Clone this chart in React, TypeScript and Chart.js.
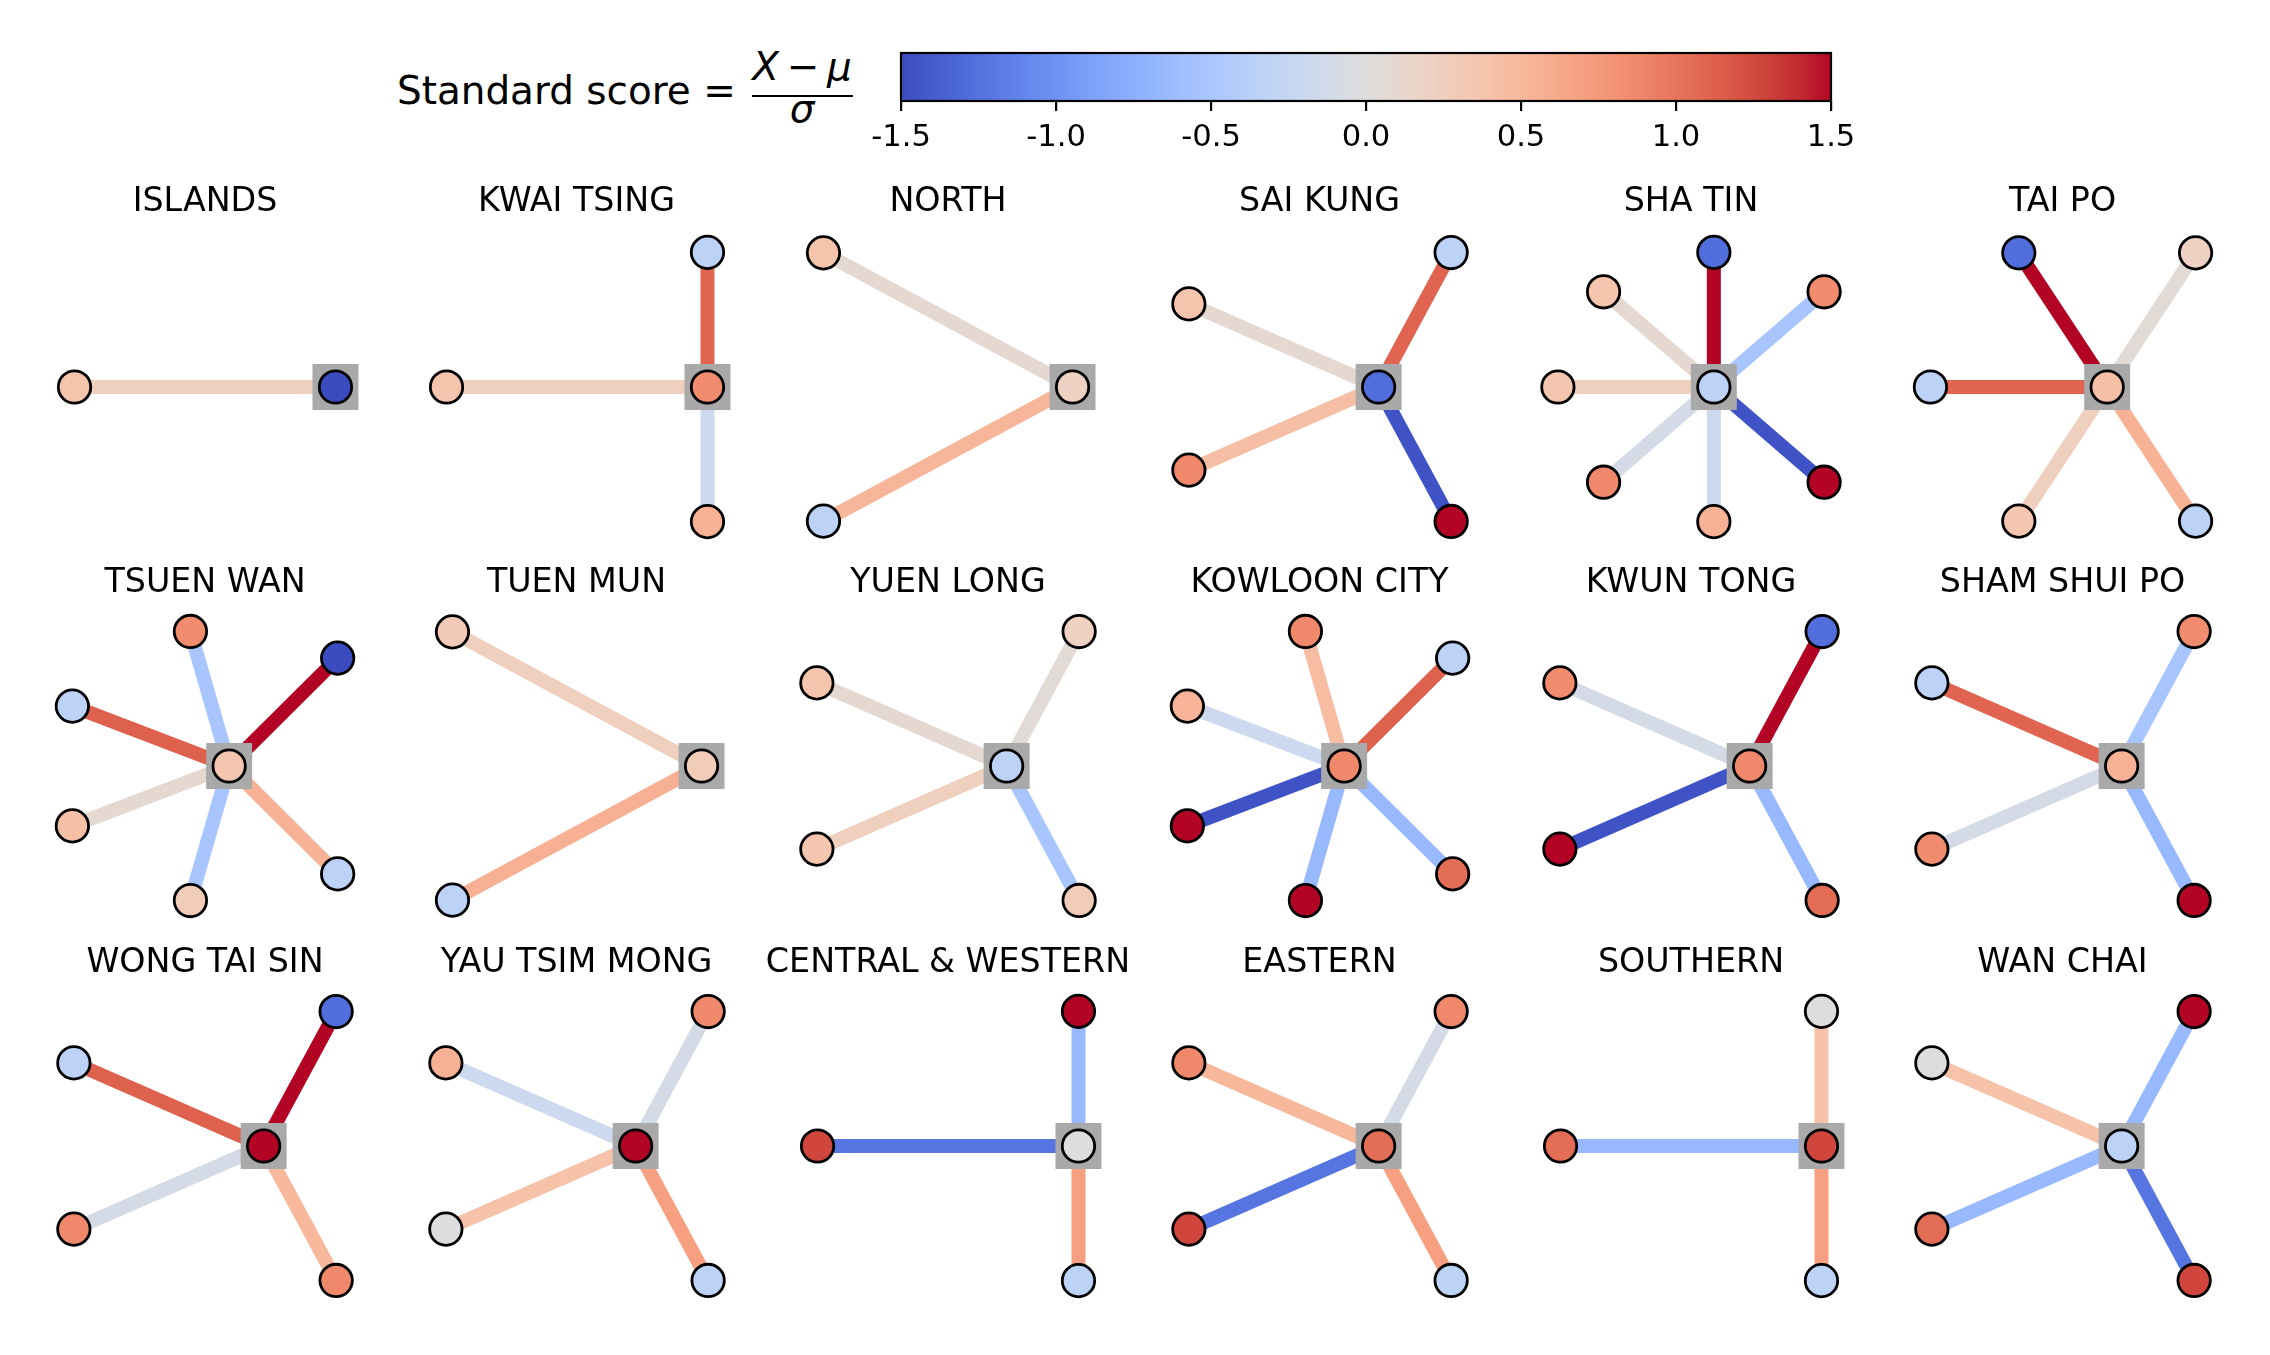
import React, { useEffect, useRef } from 'react';
import { Chart, registerables } from 'chart.js';

Chart.register(...registerables);

// ---------- data ----------
const districts = [
  'ISLANDS', 'KWAI TSING', 'NORTH', 'SAI KUNG', 'SHA TIN', 'TAI PO',
  'TSUEN WAN', 'TUEN MUN', 'YUEN LONG', 'KOWLOON CITY', 'KWUN TONG', 'SHAM SHUI PO',
  'WONG TAI SIN', 'YAU TSIM MONG', 'CENTRAL & WESTERN', 'EASTERN', 'SOUTHERN', 'WAN CHAI',
];

// standard score of the district itself (centre node)
const centerScores = [
  -1.6, 0.85, 0.2, -1.27, -0.33, 0.42,
  0.35, 0.28, -0.33, 0.87, 0.87, 0.55,
  1.6, 1.6, 0.0, 1.05, 1.27, -0.33,
];

// standard scores of neighbouring districts (outer nodes, counter-clockwise)
const neighbourScores = [
  [0.38],
  [-0.33, 0.38, 0.56],
  [0.38, -0.33],
  [-0.33, 0.38, 0.87, 1.6],
  [0.85, -1.27, 0.38, 0.35, 0.87, 0.55, 1.6],
  [0.2, -1.27, -0.33, 0.35, -0.33],
  [-1.6, 0.85, -0.33, 0.42, 0.28, -0.33],
  [0.3, -0.33],
  [0.22, 0.38, 0.35, 0.28],
  [-0.33, 0.87, 0.53, 1.6, 1.6, 1.05],
  [-1.27, 0.85, 1.6, 1.05],
  [0.85, -0.33, 0.85, 1.6],
  [-1.27, -0.33, 0.87, 0.87],
  [0.87, 0.55, 0.0, -0.33],
  [1.6, 1.27, -0.33],
  [0.87, 0.87, 1.27, -0.33],
  [0.0, 1.05, -0.33],
  [1.6, 0.0, 1.05, 1.27],
];

// standard scores of the links between the district and each neighbour
const linkScores = [
  [0.24],
  [1.1, 0.24, -0.19],
  [0.09, 0.52],
  [1.1, 0.09, 0.44, -1.45],
  [-0.52, 1.6, 0.09, 0.24, -0.1, -0.19, -1.45],
  [0.06, 1.6, 1.1, 0.24, 0.55],
  [1.6, -0.52, 1.12, 0.09, -0.52, 0.55],
  [0.24, 0.57],
  [0.06, 0.09, 0.24, -0.52],
  [1.12, 0.45, -0.19, -1.45, -0.66, -0.66],
  [1.6, -0.1, -1.45, -0.66],
  [-0.52, 1.1, -0.1, -0.66],
  [1.6, 1.12, -0.1, 0.5],
  [-0.1, -0.19, 0.4, 0.7],
  [-0.66, -1.22, 0.7],
  [-0.1, 0.5, -1.22, 0.7],
  [0.4, -0.66, 0.7],
  [-0.66, 0.4, -0.66, -1.22],
];

const colorbarTicks = [-1.5, -1.0, -0.5, 0.0, 0.5, 1.0, 1.5];
const colorbarTickLabels = ['-1.5', '-1.0', '-0.5', '0.0', '0.5', '1.0', '1.5'];
const scoreMin = -1.5;
const scoreMax = 1.5;

// ---------- coolwarm colormap ----------
const COOLWARM: number[][] = [
  [59, 76, 192], [68, 90, 204], [77, 104, 215], [87, 117, 225], [98, 130, 234],
  [108, 142, 241], [119, 154, 247], [130, 165, 251], [141, 176, 254], [152, 185, 255],
  [163, 194, 255], [174, 201, 253], [184, 208, 249], [194, 213, 244], [204, 217, 238],
  [213, 219, 230], [221, 221, 221], [229, 216, 209], [236, 211, 197], [241, 204, 185],
  [245, 196, 173], [247, 187, 160], [247, 177, 148], [247, 166, 135], [244, 154, 123],
  [241, 141, 111], [236, 127, 99], [229, 112, 88], [222, 96, 77], [213, 80, 66],
  [203, 62, 56], [192, 40, 47], [180, 4, 38],
];

function coolwarm(v: number): string {
  let t = (v - scoreMin) / (scoreMax - scoreMin);
  t = Math.max(0, Math.min(1, t));
  const f = t * (COOLWARM.length - 1);
  const i = Math.min(Math.floor(f), COOLWARM.length - 2);
  const r = f - i;
  const a = COOLWARM[i];
  const b = COOLWARM[i + 1];
  const c = [0, 1, 2].map((k) => Math.round(a[k] + (b[k] - a[k]) * r));
  return `rgb(${c[0]},${c[1]},${c[2]})`;
}

// ---------- layout ----------
const FONT = "'DejaVu Sans', 'Liberation Sans', sans-serif";
const PAD = 0.025;
const BOX_W = 274;
const BOX_H = 276;
const MARGIN = 40;
const COLS = 6;
const colCenter = (c: number) => 205 + 371.5 * c;
const rowCenter = (r: number) => 386.5 + 379.75 * r;
const titleCenter = (r: number) => 198.8 + 380.75 * r;

function Panel({ index }: { index: number }) {
  const ref = useRef<HTMLCanvasElement>(null);
  useEffect(() => {
    if (!ref.current) return;
    const scores = neighbourScores[index];
    const n = scores.length;
    const pts = scores.map((_, k) => {
      const a = (2 * Math.PI * (k + 1)) / (n + 1);
      return { x: Math.cos(a), y: Math.sin(a) };
    });
    const xs = [0, ...pts.map((p) => p.x)];
    const ys = [0, ...pts.map((p) => p.y)];
    const xmin = Math.min(...xs) - PAD;
    const xmax = Math.max(...xs) + PAD;
    let ymin = Math.min(...ys) - PAD;
    let ymax = Math.max(...ys) + PAD;
    if (Math.max(...ys) - Math.min(...ys) < 1e-6) {
      ymin = -1 - PAD;
      ymax = 1 + PAD;
    }
    const edgeSets = pts.map((p, k) => ({
      type: 'scatter' as const,
      data: [{ x: 0, y: 0 }, p],
      showLine: true,
      borderColor: coolwarm(linkScores[index][k]),
      borderWidth: 14,
      borderCapStyle: 'butt' as const,
      pointRadius: 0,
      clip: false as any,
      order: 3,
    }));
    const chart = new Chart(ref.current, {
      type: 'scatter',
      data: {
        datasets: [
          {
            data: [{ x: 0, y: 0 }, ...pts],
            pointRadius: 16.2,
            pointBackgroundColor: [coolwarm(centerScores[index]), ...scores.map(coolwarm)],
            pointBorderColor: '#000',
            pointBorderWidth: 2.8,
            clip: false as any,
            order: 1,
          },
          {
            data: [{ x: 0, y: 0 }],
            pointStyle: 'rect',
            pointRadius: 32.5,
            pointBackgroundColor: '#a9a9a9',
            pointBorderWidth: 0,
            clip: false as any,
            order: 2,
          },
          ...edgeSets,
        ] as any,
      },
      options: {
        responsive: false,
        animation: false,
        events: [],
        layout: { padding: MARGIN },
        plugins: { legend: { display: false }, tooltip: { enabled: false } },
        scales: {
          x: { type: 'linear', display: false, min: xmin, max: xmax },
          y: { type: 'linear', display: false, min: ymin, max: ymax },
        },
      },
    });
    return () => chart.destroy();
  }, [index]);

  const c = index % COLS;
  const r = Math.floor(index / COLS);
  const w = BOX_W + 2 * MARGIN;
  const h = BOX_H + 2 * MARGIN;
  return (
    <>
      <canvas
        ref={ref}
        width={w}
        height={h}
        style={{
          position: 'absolute',
          left: colCenter(c) - BOX_W / 2 - MARGIN,
          top: rowCenter(r) - BOX_H / 2 - MARGIN,
          width: w,
          height: h,
        }}
      />
      <div
        style={{
          position: 'absolute',
          left: colCenter(c) - 200,
          width: 400,
          top: titleCenter(r) - 16,
          height: 33,
          lineHeight: '33px',
          fontSize: 33.3,
          fontFamily: FONT,
          textAlign: 'center',
          color: '#000',
          whiteSpace: 'nowrap',
        }}
      >
        {districts[index]}
      </div>
    </>
  );
}

const CB_LEFT = 901;
const CB_RIGHT = 1831;
const CB_TOP = 53;
const CB_BOTTOM = 101;
const CB_PAD_L = 60;
const CB_PAD_R = 60;
const CB_PAD_T = 23;
const CB_H = 150;

function Colorbar() {
  const ref = useRef<HTMLCanvasElement>(null);
  useEffect(() => {
    if (!ref.current) return;
    const gradientPlugin = {
      id: 'cbarGradient',
      beforeDatasetsDraw(chart: any) {
        const { ctx, chartArea: a, scales } = chart;
        const x = scales.x;
        const g = ctx.createLinearGradient(a.left, 0, a.right, 0);
        const steps = 96;
        for (let i = 0; i <= steps; i++) {
          const v = scoreMin + ((scoreMax - scoreMin) * i) / steps;
          const px = x.getPixelForValue(v);
          g.addColorStop((px - a.left) / (a.right - a.left), coolwarm(v));
        }
        ctx.save();
        ctx.fillStyle = g;
        ctx.fillRect(a.left, a.top, a.right - a.left, a.bottom - a.top);
        ctx.restore();
      },
      afterDraw(chart: any) {
        const { ctx, chartArea: a } = chart;
        ctx.save();
        ctx.strokeStyle = '#000';
        ctx.lineWidth = 2.2;
        ctx.strokeRect(a.left, a.top, a.right - a.left, a.bottom - a.top);
        ctx.restore();
      },
    };
    const chart = new Chart(ref.current, {
      type: 'scatter',
      data: { datasets: [{ data: [] }] },
      options: {
        responsive: false,
        animation: false,
        events: [],
        layout: { padding: { left: CB_PAD_L, right: CB_PAD_R, top: CB_PAD_T, bottom: 0 } },
        plugins: { legend: { display: false }, tooltip: { enabled: false } },
        scales: {
          x: {
            type: 'linear',
            position: 'bottom',
            min: scoreMin,
            max: scoreMax,
            afterBuildTicks: (s: any) => {
              s.ticks = colorbarTicks.map((v) => ({ value: v }));
            },
            afterFit: (s: any) => {
              s.height = CB_H - CB_PAD_T - (CB_BOTTOM - CB_TOP);
            },
            grid: {
              display: true,
              drawOnChartArea: false,
              drawTicks: true,
              tickLength: 10,
              tickWidth: 2.2,
              tickColor: '#000',
              lineWidth: 2.2,
              color: '#000',
            },
            border: { display: false },
            ticks: {
              autoSkip: false,
              maxRotation: 0,
              padding: 9,
              color: '#000',
              font: { family: FONT, size: 30.6 },
              callback: (_v: any, i: number) => colorbarTickLabels[i],
            },
          },
          y: { display: false, min: 0, max: 1 },
        },
      },
      plugins: [gradientPlugin],
    });
    return () => chart.destroy();
  }, []);
  const width = CB_RIGHT - CB_LEFT + CB_PAD_L + CB_PAD_R;
  return (
    <canvas
      ref={ref}
      width={width}
      height={CB_H}
      style={{ position: 'absolute', left: CB_LEFT - CB_PAD_L, top: CB_TOP - CB_PAD_T, width, height: CB_H }}
    />
  );
}

function ColorbarLabel() {
  const base: React.CSSProperties = {
    position: 'absolute',
    fontFamily: FONT,
    fontSize: 38.9,
    lineHeight: '39px',
    height: 39,
    color: '#000',
    whiteSpace: 'nowrap',
  };
  return (
    <>
      <div style={{ ...base, left: 397, top: 71 }}>Standard score =</div>
      <div style={{ ...base, left: 742, width: 120, top: 47, textAlign: 'center' }}>
        <span style={{ fontStyle: 'italic' }}>X</span>
        <span>{'\u2009\u2212\u2009'}</span>
        <span style={{ fontStyle: 'italic' }}>μ</span>
      </div>
      <div
        style={{
          position: 'absolute',
          left: 752,
          width: 101,
          top: 94.5,
          height: 2.2,
          background: '#000',
        }}
      />
      <div style={{ ...base, left: 742, width: 120, top: 88.7, textAlign: 'center', fontStyle: 'italic' }}>σ</div>
    </>
  );
}

export default function App() {
  return (
    <div
      style={{
        position: 'absolute',
        left: 0,
        top: 0,
        width: 2270,
        height: 1355,
        background: '#fff',
        overflow: 'hidden',
      }}
    >
      <ColorbarLabel />
      <Colorbar />
      {districts.map((_, i) => (
        <Panel key={i} index={i} />
      ))}
    </div>
  );
}
